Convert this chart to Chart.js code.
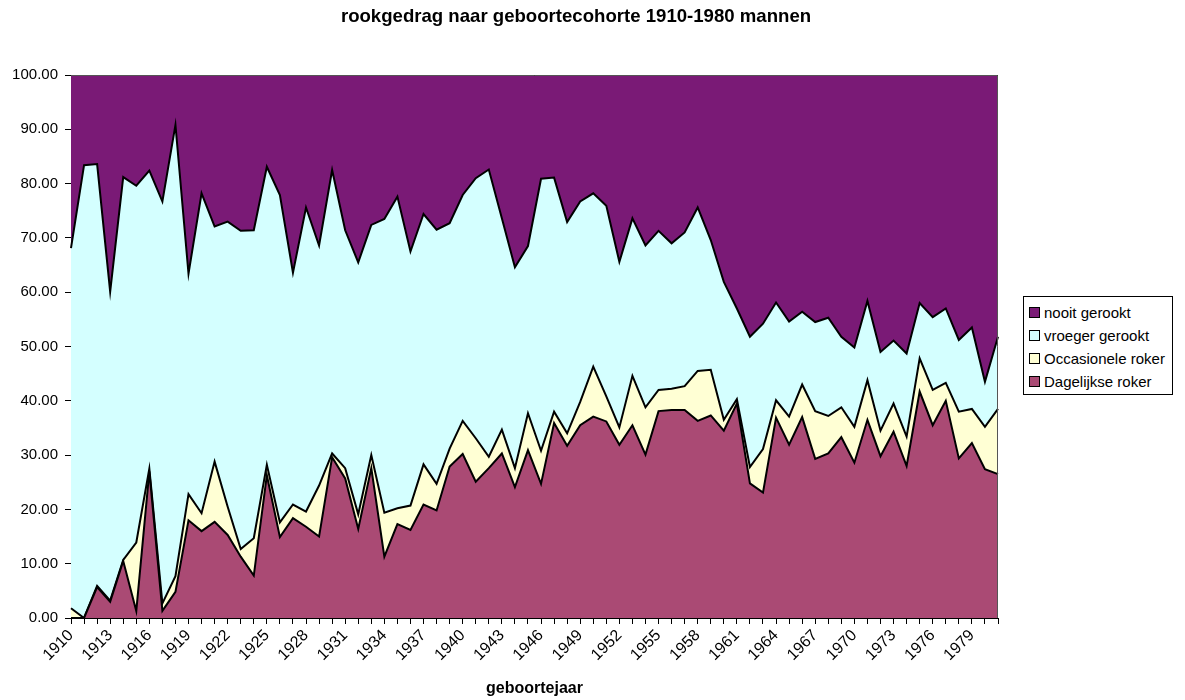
<!DOCTYPE html>
<html>
<head>
<meta charset="utf-8">
<title>rookgedrag naar geboortecohorte 1910-1980 mannen</title>
<script src="https://cdn.jsdelivr.net/npm/chart.js@4/dist/chart.umd.min.js"></script>
<style>
  body { margin: 0; background: #fff; }
  #wrap { position: relative; width: 1185px; height: 700px; }
  #legend {
    position: absolute; left: 1023px; top: 296px; width: 150px; height: 99px;
    border: 1px solid #000; box-sizing: border-box; background: #fff;
    font: 15px "Liberation Sans", Arial, sans-serif; color: #000; padding-top: 4px;
  }
  #legend .row { display: flex; align-items: center; height: 23px; padding-left: 5px; }
  #legend .box { width: 9px; height: 9px; border: 1px solid #000; margin-right: 4px; }
</style>
</head>
<body>
<div id="wrap">
  <canvas id="chart" width="1185" height="700"></canvas>
  <div id="legend"></div>
</div>
<script>
// rookgedrag mannen per geboortejaar (percentages, gestapeld tot 100)
const YEARS = [];
for (let y = 1910; y <= 1981; y++) YEARS.push(String(y));

const DAGELIJKS = [
  0.0, 0.0, 5.7, 3.0, 10.5, 1.3, 27.0, 1.3, 4.8, 18.0,
  16.0, 17.7, 15.3, 11.3, 7.8, 26.3, 14.9, 18.4, 16.8, 15.0,
  29.6, 25.7, 16.4, 27.6, 11.3, 17.3, 16.2, 20.9, 19.8, 27.9,
  30.2, 25.1, 27.6, 30.3, 24.1, 30.9, 24.7, 35.9, 31.7, 35.5,
  37.1, 36.2, 31.9, 35.5, 30.1, 38.1, 38.3, 38.3, 36.3, 37.3,
  34.5, 39.5, 24.8, 23.1, 36.9, 31.9, 37.0, 29.3, 30.3, 33.3,
  28.6, 36.5, 29.8, 34.3, 28.0, 41.7, 35.5, 40.0, 29.4, 32.2,
  27.4, 26.5
];
const OCCASIONEEL = [
  1.8, 0.0, 0.2, 0.2, 0.2, 12.6, 0.5, 1.4, 2.9, 4.8,
  3.3, 11.1, 5.2, 1.4, 6.9, 1.9, 2.7, 2.5, 2.8, 9.4,
  0.7, 1.9, 2.7, 2.4, 8.1, 2.9, 4.5, 7.4, 4.9, 3.3,
  6.1, 8.0, 2.1, 4.4, 3.5, 6.8, 6.1, 2.1, 2.3, 4.3,
  9.2, 4.6, 3.2, 9.1, 8.7, 3.9, 3.9, 4.4, 9.2, 8.4,
  2.0, 0.8, 3.0, 8.0, 3.2, 5.2, 6.0, 8.8, 6.9, 5.5,
  6.6, 7.3, 4.7, 5.2, 5.4, 6.1, 6.5, 3.3, 8.6, 6.3,
  7.8, 12.0
];
const VROEGER = [
  66.3, 83.4, 77.7, 56.9, 70.5, 65.7, 54.9, 74.0, 83.1, 40.6,
  58.9, 43.3, 52.5, 58.6, 56.7, 54.9, 60.3, 42.7, 56.0, 44.2,
  52.2, 43.8, 46.4, 42.4, 54.1, 57.4, 46.8, 46.1, 46.8, 41.5,
  41.6, 47.9, 52.9, 38.9, 37.0, 30.8, 50.1, 43.1, 38.9, 36.9,
  31.9, 35.1, 30.5, 29.0, 29.8, 29.3, 26.8, 28.3, 30.1, 23.9,
  25.4, 16.7, 24.0, 23.1, 18.0, 17.5, 13.4, 16.4, 18.1, 13.0,
  14.6, 14.6, 14.5, 11.6, 15.3, 10.2, 13.4, 13.7, 13.2, 15.0,
  8.3, 13.3
];
const NOOIT = [
  31.9, 16.6, 16.4, 39.9, 18.8, 20.4, 17.6, 23.3, 9.2, 36.6,
  21.8, 27.9, 27.0, 28.7, 28.6, 16.9, 22.1, 36.4, 24.4, 31.4,
  17.5, 28.6, 34.5, 27.6, 26.5, 22.4, 32.5, 25.6, 28.5, 27.3,
  22.1, 19.0, 17.4, 26.4, 35.4, 31.5, 19.1, 18.9, 27.1, 23.3,
  21.8, 24.1, 34.4, 26.4, 31.4, 28.7, 31.0, 29.0, 24.4, 30.4,
  38.1, 43.0, 48.2, 45.8, 41.9, 45.4, 43.6, 45.5, 44.7, 48.2,
  50.2, 41.6, 51.0, 48.9, 51.3, 42.0, 44.6, 43.0, 48.8, 46.5,
  56.5, 48.2
];

const Y_TICKS = [0, 10, 20, 30, 40, 50, 60, 70, 80, 90, 100];

const FONT = '"Liberation Sans", Arial, sans-serif';

function area(label, data, color, fill) {
  return {
    label, data, fill,
    backgroundColor: color,
    borderColor: '#000',
    borderWidth: 2,
    pointRadius: 0,
    tension: 0,
  };
}

const datasets = [
  area('Dagelijkse roker', DAGELIJKS, '#aa4a74', 'origin'),
  area('Occasionele roker', OCCASIONEEL, '#ffffd4', '-1'),
  area('vroeger gerookt', VROEGER, '#d4ffff', '-1'),
  area('nooit gerookt', NOOIT, '#7a1a76', '-1'),
];

// titel + rand om plotgebied
const decor = {
  id: 'decor',
  afterDatasetsDraw(chart) {
    const { ctx, chartArea: a } = chart;
    ctx.save();
    ctx.strokeStyle = '#555';
    ctx.lineWidth = 1;
    ctx.beginPath();
    ctx.moveTo(a.left, a.top + 0.5);
    ctx.lineTo(a.right - 0.5, a.top + 0.5);
    ctx.lineTo(a.right - 0.5, a.bottom);
    ctx.stroke();
    ctx.restore();
  },
  afterDraw(chart) {
    const ctx = chart.ctx;
    ctx.save();
    ctx.font = 'bold 18.6px ' + FONT;
    ctx.fillStyle = '#000';
    ctx.textAlign = 'center';
    ctx.textBaseline = 'middle';
    ctx.fillText('rookgedrag naar geboortecohorte 1910-1980 mannen', 576, 17);
    ctx.restore();
  }
};

const chart = new Chart(document.getElementById('chart'), {
  type: 'line',
  data: { labels: YEARS, datasets },
  options: {
    responsive: false,
    animation: false,
    devicePixelRatio: 1,
    layout: { padding: { top: 75, right: 187, left: 0, bottom: 0 } },
    plugins: {
      legend: { display: false },
      title: { display: false },
      tooltip: { enabled: false },
    },
    scales: {
      x: {
        type: 'category',
        offset: false,
        border: { color: '#000', width: 1 },
        grid: { drawOnChartArea: false, color: '#000', tickLength: 6 },
        ticks: {
          autoSkip: false, minRotation: 45, maxRotation: 45,
          color: '#000', font: { family: FONT, size: 16 }, padding: 2,
          callback: (v, i) => (i % 3 === 0 ? YEARS[i] : ''),
        },
        title: {
          display: true, text: 'geboortejaar', color: '#000',
          font: { family: FONT, size: 16, weight: 'bold' },
          padding: { top: 0, bottom: 2 },
        },
        afterFit: s => { s.height = 82; },
      },
      y: {
        stacked: true,
        min: 0, max: 100,
        border: { color: '#000', width: 1 },
        grid: { drawOnChartArea: false, color: '#000', tickLength: 6 },
        afterBuildTicks: s => { s.ticks = Y_TICKS.map(v => ({ value: v })); },
        ticks: {
          color: '#000', font: { family: FONT, size: 15 }, padding: 7,
          callback: v => Number(v).toFixed(2),
        },
        afterFit: s => { s.width = 71; },
      },
    },
  },
  plugins: [decor],
});

// legenda (bovenste reeks eerst)
const legend = document.getElementById('legend');
[...chart.data.datasets].reverse().forEach(ds => {
  const row = document.createElement('div');
  row.className = 'row';
  const box = document.createElement('span');
  box.className = 'box';
  box.style.background = ds.backgroundColor;
  const txt = document.createElement('span');
  txt.textContent = ds.label;
  row.appendChild(box);
  row.appendChild(txt);
  legend.appendChild(row);
});
</script>
</body>
</html>
